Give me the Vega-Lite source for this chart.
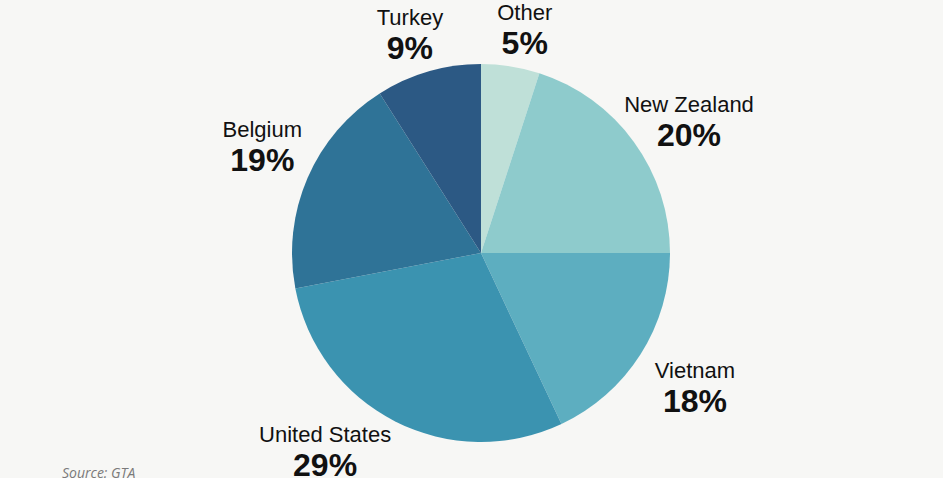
{
  "$schema": "https://vega.github.io/schema/vega-lite/v6.json",
  "width": 924,
  "height": 450,
  "autosize": {"type": "none"},
  "padding": {"left": 19, "top": 28, "right": 0, "bottom": 0},
  "background": "#f7f7f5",
  "config": {"view": {"stroke": null}},
  "title": {"text": "Source: GTA", "orient": "bottom", "anchor": "start", "frame": "group", "font": "Open Sans", "fontStyle": "italic", "fontWeight": "normal", "fontSize": 14, "color": "#7a7a7a", "offset": -44, "dx": 43},
  "data": {"values": [
    {"country": "Other", "value": 5, "label": "5%", "rank": 1},
    {"country": "New Zealand", "value": 20, "label": "20%", "rank": 2},
    {"country": "Vietnam", "value": 18, "label": "18%", "rank": 3},
    {"country": "United States", "value": 29, "label": "29%", "rank": 4},
    {"country": "Belgium", "value": 19, "label": "19%", "rank": 5},
    {"country": "Turkey", "value": 9, "label": "9%", "rank": 6}
  ]},
  "encoding": {
    "theta": {"field": "value", "type": "quantitative", "stack": true},
    "order": {"field": "rank", "type": "quantitative"},
    "detail": {"field": "country"}
  },
  "layer": [
    {
      "mark": {"type": "arc", "radius": 189},
      "encoding": {
        "color": {"field": "country", "type": "nominal", "legend": null,
          "scale": {"domain": ["Other", "New Zealand", "Vietnam", "United States", "Belgium", "Turkey"],
                    "range": ["#bfe0d8", "#8ecbcc", "#5daec0", "#3b93b0", "#2f7397", "#2c5984"]}}
      }
    },
    {"mark": {"type": "text", "radius": 229, "thetaOffset": 0.035, "dy": -8, "baseline": "alphabetic", "font": "Liberation Sans", "fontSize": 22, "fill": "#111"},
     "encoding": {"text": {"field": "country"}, "opacity": {"condition": {"test": "datum.country === 'Other'", "value": 1}, "value": 0}}},
    {"mark": {"type": "text", "radius": 229, "thetaOffset": 0.035, "dy": 26, "baseline": "alphabetic", "font": "Liberation Sans", "fontSize": 32, "fontWeight": "bold", "fill": "#111"},
     "encoding": {"text": {"field": "label"}, "opacity": {"condition": {"test": "datum.country === 'Other'", "value": 1}, "value": 0}}},
    {"mark": {"type": "text", "radius": 247, "thetaOffset": 0.059, "dy": -8, "baseline": "alphabetic", "font": "Liberation Sans", "fontSize": 22, "fill": "#111"},
     "encoding": {"text": {"field": "country"}, "opacity": {"condition": {"test": "datum.country === 'New Zealand'", "value": 1}, "value": 0}}},
    {"mark": {"type": "text", "radius": 247, "thetaOffset": 0.059, "dy": 26, "baseline": "alphabetic", "font": "Liberation Sans", "fontSize": 32, "fontWeight": "bold", "fill": "#111"},
     "encoding": {"text": {"field": "label"}, "opacity": {"condition": {"test": "datum.country === 'New Zealand'", "value": 1}, "value": 0}}},
    {"mark": {"type": "text", "radius": 252, "thetaOffset": -0.009, "dy": -8, "baseline": "alphabetic", "font": "Liberation Sans", "fontSize": 22, "fill": "#111"},
     "encoding": {"text": {"field": "country"}, "opacity": {"condition": {"test": "datum.country === 'Vietnam'", "value": 1}, "value": 0}}},
    {"mark": {"type": "text", "radius": 252, "thetaOffset": -0.009, "dy": 26, "baseline": "alphabetic", "font": "Liberation Sans", "fontSize": 32, "fontWeight": "bold", "fill": "#111"},
     "encoding": {"text": {"field": "label"}, "opacity": {"condition": {"test": "datum.country === 'Vietnam'", "value": 1}, "value": 0}}},
    {"mark": {"type": "text", "radius": 251, "thetaOffset": 0.199, "dy": -8, "baseline": "alphabetic", "font": "Liberation Sans", "fontSize": 22, "fill": "#111"},
     "encoding": {"text": {"field": "country"}, "opacity": {"condition": {"test": "datum.country === 'United States'", "value": 1}, "value": 0}}},
    {"mark": {"type": "text", "radius": 251, "thetaOffset": 0.199, "dy": 26, "baseline": "alphabetic", "font": "Liberation Sans", "fontSize": 32, "fontWeight": "bold", "fill": "#111"},
     "encoding": {"text": {"field": "label"}, "opacity": {"condition": {"test": "datum.country === 'United States'", "value": 1}, "value": 0}}},
    {"mark": {"type": "text", "radius": 244, "thetaOffset": 0.051, "dy": -8, "baseline": "alphabetic", "font": "Liberation Sans", "fontSize": 22, "fill": "#111"},
     "encoding": {"text": {"field": "country"}, "opacity": {"condition": {"test": "datum.country === 'Belgium'", "value": 1}, "value": 0}}},
    {"mark": {"type": "text", "radius": 244, "thetaOffset": 0.051, "dy": 26, "baseline": "alphabetic", "font": "Liberation Sans", "fontSize": 32, "fontWeight": "bold", "fill": "#111"},
     "encoding": {"text": {"field": "label"}, "opacity": {"condition": {"test": "datum.country === 'Belgium'", "value": 1}, "value": 0}}},
    {"mark": {"type": "text", "radius": 231, "thetaOffset": -0.030, "dy": -8, "baseline": "alphabetic", "font": "Liberation Sans", "fontSize": 22, "fill": "#111"},
     "encoding": {"text": {"field": "country"}, "opacity": {"condition": {"test": "datum.country === 'Turkey'", "value": 1}, "value": 0}}},
    {"mark": {"type": "text", "radius": 231, "thetaOffset": -0.030, "dy": 26, "baseline": "alphabetic", "font": "Liberation Sans", "fontSize": 32, "fontWeight": "bold", "fill": "#111"},
     "encoding": {"text": {"field": "label"}, "opacity": {"condition": {"test": "datum.country === 'Turkey'", "value": 1}, "value": 0}}}
  ]
}
